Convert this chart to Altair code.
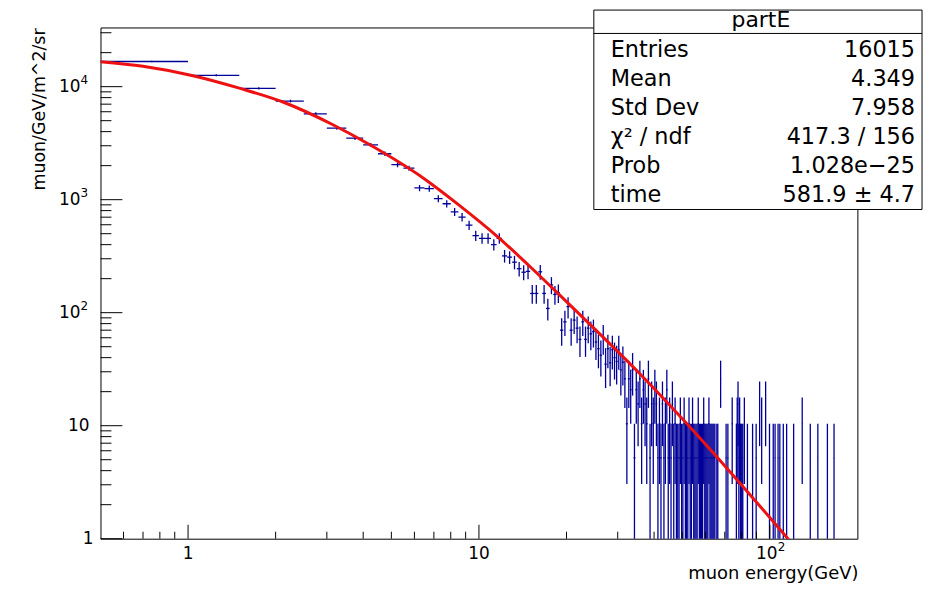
import math
import altair as alt
import pandas as pd

# ---------------- data ----------------
# histogram bins of width 0.5 GeV (centres), values in muon/GeV/m^2/sr
low_e = [0.75, 1.25, 1.75, 2.25, 2.75, 3.25, 3.75, 4.25, 4.75, 5.25,
         5.75, 6.25, 6.75, 7.25, 7.75, 8.25, 8.75, 9.25, 9.75, 10.25,
         10.75, 11.25, 11.75, 12.25, 12.75, 13.25, 13.75, 14.25, 14.75, 15.25,
         15.75, 16.25, 16.75, 17.25, 17.75, 18.25, 18.75, 19.25, 19.75, 20.25,
         20.75, 21.25, 21.75, 22.25, 22.75, 23.25, 23.75, 24.25, 24.75, 25.25,
         25.75, 26.25, 26.75, 27.25, 27.75, 28.25, 28.75, 29.25, 29.75]
low_v = [16700, 12600, 9650, 7450, 5750, 4300, 3500, 3050, 2550, 2040,
         1900, 1270, 1255, 1020, 920, 780, 700, 595, 480, 455,
         455, 400, 455, 318, 310, 280, 245, 228, 232, 148,
         148, 230, 148, 109, 176, 145, 150, 70, 83, 113,
         70, 86, 73, 58, 83, 58, 73, 65, 68, 55,
         48, 42, 60, 35, 48, 36, 47, 40, 37]

# sparse high-energy bins: centre and number of entries
hi_e = [30.25, 30.75, 31.25, 31.75, 32.25, 32.75, 33.25, 33.75, 34.25, 34.75,
        35.25, 35.75, 36.25, 36.75, 37.25, 37.75, 38.25, 38.75, 39.25, 39.75,
        40.25, 40.75, 41.25, 41.75, 42.25, 42.75, 43.25, 43.75, 44.25, 44.75,
        45.25, 45.75, 46.25, 46.75, 47.25, 47.75, 48.25, 48.75, 49.25, 49.75,
        50.25, 50.75, 51.25, 51.75, 52.25, 52.75, 53.25, 53.75, 54.25, 54.75,
        55.25, 55.75, 56.25, 56.75, 57.25, 57.75, 58.25, 58.75, 59.25, 59.75,
        60.25, 60.75, 61.25, 61.75, 62.25, 62.75, 63.25, 63.75, 64.25, 64.75,
        65.75, 66.25, 67.75, 70.75, 71.75, 74.25,
        76.75, 77.25, 77.75, 78.25, 78.75, 79.25, 79.75,
        80.25, 80.75, 81.75, 83.75, 87.25, 89.75, 92.25, 93.75, 96.75, 99.75,
        102.75, 104.25, 106.75, 108.25, 111.25, 114.25,
        120.75, 129.25, 137.75, 146.25, 157.75, 166.25]
hi_n = [9, 6, 7, 5, 2, 5, 4, 6, 1, 4,
        3, 5, 2, 4, 3, 2, 5, 1, 3, 2,
        4, 3, 1, 2, 1, 3, 1, 2, 4, 1,
        2, 1, 3, 1, 2, 1, 1, 1, 2, 1,
        1, 2, 1, 1, 1, 2, 1, 1, 2, 1,
        1, 1, 1, 2, 1, 1, 1, 1, 2, 1,
        1, 1, 1, 2, 1, 1, 1, 1, 1, 1,
        1, 1, 5, 1, 1, 2,
        1, 2, 3, 1, 2, 1, 1,
        1, 1, 2, 1, 1, 1, 3, 2, 3, 1,
        1, 1, 1, 1, 1, 1,
        1, 2, 1, 1, 1, 1]
per_entry = 5.2        # flux value of one entry (level of single-entry bins)
half_bin = 0.25

# fit curve, points
fit_e = [0.5, 0.7, 1.04, 1.5, 2.13, 3.16, 4.16, 6.5, 8.5, 11.6, 15, 20.2, 35.2, 60, 117]
fit_v = [16650, 15150, 12500, 9700, 7280, 4580, 3120, 1525, 904, 469, 255, 122, 30, 6.9, 0.96]

x_major = [1, 10, 100]
x_minor = [0.6, 0.7, 0.8, 0.9, 2, 3, 4, 5, 6, 7, 8, 9, 20, 30, 40, 50, 60, 70, 80, 90]
y_major = [1, 10, 100, 1000, 10000]
y_minor = [2, 3, 4, 5, 6, 7, 8, 9, 20, 30, 40, 50, 60, 70, 80, 90,
           200, 300, 400, 500, 600, 700, 800, 900,
           2000, 3000, 4000, 5000, 6000, 7000, 8000, 9000, 20000, 30000]

x_label_plain = [1, 10]
x_label_plain_text = ["1", "10"]
x_label_pow = [100]
x_label_pow_exp = ["2"]
y_label_one = [1]
y_label_ten = [10]
y_label_pow = [100, 1000, 10000]
y_label_pow_exp = ["2", "3", "4"]

x_title = "muon energy(GeV)"
y_title = "muon/GeV/m^2/sr"

stats_title = "partE"
stats_names = ["Entries", "Mean", "Std Dev", "\u03c7\u00b2 / ndf", "Prob", "time"]
stats_values = ["16015", "4.349", "7.958", "417.3 / 156", "1.028e\u221225", "581.9 \u00b1 4.7"]

# ---------------- build tables ----------------
rows = []
for e, v in zip(low_e, low_v):
    err = math.sqrt(v * per_entry)
    rows.append((e, v, err))
for e, n in zip(hi_e, hi_n):
    v = n * per_entry
    rows.append((e, v, math.sqrt(n) * per_entry))
hist = pd.DataFrame(rows, columns=["e", "v", "err"])
hist["lo"] = (hist["v"] - hist["err"]).clip(lower=0.5)
hist["hi"] = hist["v"] + hist["err"]
hist["xlo"] = hist["e"] - half_bin
hist["xhi"] = hist["e"] + half_bin

fit = pd.DataFrame({"e": fit_e, "v": fit_v})

W, H = 761, 514
NAVY = "#000099"
RED = "#ee1111"
FONT = "DejaVu Sans"

xs = alt.Scale(type="log", domain=[0.5, 200], nice=False)
ys = alt.Scale(type="log", domain=[1, 33400], nice=False)

vbars = alt.Chart(hist).mark_rule(color=NAVY, strokeWidth=1.3, clip=True).encode(
    x=alt.X("e:Q", scale=xs, axis=None),
    y=alt.Y("lo:Q", scale=ys, axis=None),
    y2="hi:Q",
)
hbars = alt.Chart(hist).mark_rule(color=NAVY, strokeWidth=1.3, clip=True).encode(
    x=alt.X("xlo:Q", scale=xs, axis=None),
    x2="xhi:Q",
    y=alt.Y("v:Q", scale=ys, axis=None),
)
fitline = alt.Chart(fit).mark_line(color=RED, strokeWidth=3, clip=True, interpolate="monotone").encode(
    x=alt.X("e:Q", scale=xs, axis=None),
    y=alt.Y("v:Q", scale=ys, axis=None),
)

def xticks(vals, length):
    return alt.Chart(pd.DataFrame({"t": vals})).mark_rule(color="black", strokeWidth=1).encode(
        x=alt.X("t:Q", scale=xs, axis=None), y=alt.value(H), y2=alt.value(H - length))

def yticks(vals, length):
    return alt.Chart(pd.DataFrame({"t": vals})).mark_rule(color="black", strokeWidth=1).encode(
        y=alt.Y("t:Q", scale=ys, axis=None), x=alt.value(0), x2=alt.value(length))

ticks = [xticks(x_major, 14), xticks(x_minor, 7), yticks(y_major, 22), yticks(y_minor, 11)]

LBL = 17
xl1 = alt.Chart(pd.DataFrame({"t": x_label_plain, "s": x_label_plain_text})).mark_text(
    font=FONT, fontSize=LBL, baseline="middle", align="center", color="black").encode(
    x=alt.X("t:Q", scale=xs, axis=None), y=alt.value(H + 15), text="s:N")
xl2 = alt.Chart(pd.DataFrame({"t": x_label_pow, "s": ["10"] * len(x_label_pow)})).mark_text(
    font=FONT, fontSize=LBL, baseline="middle", align="center", dx=-3, color="black").encode(
    x=alt.X("t:Q", scale=xs, axis=None), y=alt.value(H + 15), text="s:N")
xl3 = alt.Chart(pd.DataFrame({"t": x_label_pow, "s": x_label_pow_exp})).mark_text(
    font=FONT, fontSize=12, baseline="middle", align="left", dx=8, color="black").encode(
    x=alt.X("t:Q", scale=xs, axis=None), y=alt.value(H + 8), text="s:N")

yl1 = alt.Chart(pd.DataFrame({"t": y_label_one, "s": ["1"]})).mark_text(
    font=FONT, fontSize=LBL, baseline="middle", align="right", color="black").encode(
    y=alt.Y("t:Q", scale=ys, axis=None), x=alt.value(-7), text="s:N")
yl2 = alt.Chart(pd.DataFrame({"t": y_label_ten, "s": ["10"]})).mark_text(
    font=FONT, fontSize=LBL, baseline="middle", align="right", color="black").encode(
    y=alt.Y("t:Q", scale=ys, axis=None), x=alt.value(-11), text="s:N")
yl3 = alt.Chart(pd.DataFrame({"t": y_label_pow, "s": ["10"] * len(y_label_pow)})).mark_text(
    font=FONT, fontSize=LBL, baseline="middle", align="right", color="black").encode(
    y=alt.Y("t:Q", scale=ys, axis=None), x=alt.value(-20), text="s:N")
yl4 = alt.Chart(pd.DataFrame({"t": y_label_pow, "s": y_label_pow_exp})).mark_text(
    font=FONT, fontSize=12, baseline="middle", align="left", dy=-7, color="black").encode(
    y=alt.Y("t:Q", scale=ys, axis=None), x=alt.value(-20), text="s:N")

def text_at(s, px, py, size, align="left", angle=0, baseline="middle"):
    return alt.Chart(pd.DataFrame({"s": [s]})).mark_text(
        font=FONT, fontSize=size, align=align, baseline=baseline, angle=angle, color="black").encode(
        x=alt.value(px), y=alt.value(py), text="s:N")

xt = text_at(x_title, W + 1, H + 36, 18, align="right")
yt = text_at(y_title, -61, 1, 17.5, align="right", angle=270)

# stats box
box = alt.Chart(pd.DataFrame({"s": [stats_title]})).mark_rect(
    fill="white", stroke="black", strokeWidth=1).encode(
    x=alt.value(496), x2=alt.value(826), y=alt.value(-17.5), y2=alt.value(183))
sep = alt.Chart(pd.DataFrame({"s": [stats_title]})).mark_rule(color="black", strokeWidth=1).encode(
    x=alt.value(496), x2=alt.value(826), y=alt.value(6))
SF = 22.5
stat_layers = [box, sep, text_at(stats_title, 664, -7, 22, align="center")]
for i, (nm, val) in enumerate(zip(stats_names, stats_values)):
    py = 23 + 29 * i
    stat_layers.append(text_at(nm, 513, py, SF, align="left"))
    stat_layers.append(text_at(val, 819, py, SF, align="right"))

chart = alt.layer(
    vbars, hbars, fitline, *ticks, xl1, xl2, xl3, yl1, yl2, yl3, yl4, xt, yt, *stat_layers
).properties(
    width=W, height=H,
    autosize=alt.AutoSizeParams(type="none"),
    padding={"left": 93, "top": 18, "right": 70, "bottom": 50},
    background="white",
).configure_view(stroke="black", strokeWidth=1)

chart.save("out.html", embed_options={"renderer": "svg", "actions": False})
